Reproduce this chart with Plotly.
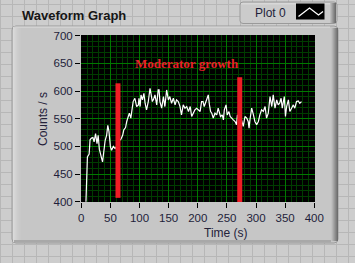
import plotly.graph_objects as go

# ---------------- data ----------------
time_s = [8, 9, 10.5, 13.5, 15, 17.5, 20, 22, 24.5, 27,
          29, 31, 33, 35, 36.5, 38, 40, 41, 43.5, 45.5,
          47.5, 50, 52, 55, 58, 61, 63, 65, 68, 71,
          73, 76, 78, 80.5, 82.5, 85, 87, 89, 92, 94,
          95, 98, 99, 101, 102.5, 105, 107.5, 109.5, 112, 115,
          118, 120, 122, 124, 126.5, 129.5, 132, 133.5, 135, 138,
          141, 143.5, 146.5, 149.5, 152, 155, 158, 161, 163.5, 166.5,
          169.5, 172, 175, 178, 181, 184, 187, 189.5, 192.5, 195,
          198, 201, 204, 206.5, 209, 211, 214, 216.5, 218, 220,
          222, 224, 226.5, 229.5, 232.5, 235, 237, 239, 242, 244,
          245.5, 248.5, 250.5, 253.5, 255.5, 258, 261, 264, 266.5, 268,
          270, 272, 275, 278, 281, 284, 286.5, 288, 289.5, 292.5,
          295.5, 298, 301, 304, 306.5, 309.5, 312.5, 315.5, 318, 321,
          324, 327, 329.5, 332.5, 335.5, 338, 340.5, 343, 345, 348.5,
          350.5, 352.5, 355.5, 358, 361, 364, 366.5, 369.5, 372.5, 375,
          378]
counts = [400, 464, 481, 486, 512, 515, 516, 508, 523, 505,
          520, 495, 484, 478, 472, 490, 505, 511, 520, 538,
          527, 499, 493, 500, 496, 500, 505, 510, 513, 520,
          530, 534, 545, 554, 560, 551, 568, 581, 587, 572,
          572, 575, 587, 572, 593, 584, 596, 578, 566, 581,
          605, 593, 581, 585, 593, 575, 602, 602, 581, 569,
          590, 572, 602, 584, 590, 578, 587, 575, 584, 581,
          572, 557, 575, 569, 572, 563, 572, 554, 560, 566,
          569, 566, 563, 581, 581, 572, 581, 587, 593, 575,
          563, 560, 551, 560, 557, 569, 562, 554, 557, 548,
          566, 575, 557, 563, 554, 552, 548, 545, 539, 557,
          545, 540, 548, 536, 554, 551, 545, 533, 548, 569,
          557, 545, 539, 545, 557, 566, 563, 572, 551, 560,
          590, 572, 593, 569, 584, 575, 578, 587, 569, 590,
          554, 572, 584, 563, 569, 575, 569, 581, 582, 578,
          581]

marker_times = [63, 272]
marker_top = [614, 625]
marker_bottom = [407, 397]

annotation_text = "Moderator growth"
annotation_pos = (181, 649)

x_ticks = [0, 50, 100, 150, 200, 250, 300, 350, 400]
y_ticks = [400, 450, 500, 550, 600, 650, 700]

# ---------------- geometry helpers ----------------
W, H = 355, 263
ML, MR, MT, MB = 81, 40, 35, 61
PW = W - ML - MR
PH = H - MT - MB


def fx(px):
    return (px - ML) / PW


def fy(py):
    return (H - MB - py) / PH


def prect(x0, y0, x1, y1, fill, line=None, lw=0):
    return dict(type="rect", xref="paper", yref="paper", layer="below",
                x0=fx(x0), x1=fx(x1), y0=fy(y1), y1=fy(y0),
                fillcolor=fill, line=dict(color=line or fill, width=lw))


def pline(x0, y0, x1, y1, color, w=1):
    return dict(type="line", xref="paper", yref="paper", layer="below",
                x0=fx(x0), x1=fx(x1), y0=fy(y0), y1=fy(y1),
                line=dict(color=color, width=w))


def rrect_path(x0, y0, x1, y1, r):
    pts = [
        f"M{fx(x0 + r)},{fy(y0)}",
        f"L{fx(x1 - r)},{fy(y0)}",
        f"Q{fx(x1)},{fy(y0)} {fx(x1)},{fy(y0 + r)}",
        f"L{fx(x1)},{fy(y1 - r)}",
        f"Q{fx(x1)},{fy(y1)} {fx(x1 - r)},{fy(y1)}",
        f"L{fx(x0 + r)},{fy(y1)}",
        f"Q{fx(x0)},{fy(y1)} {fx(x0)},{fy(y1 - r)}",
        f"L{fx(x0)},{fy(y0 + r)}",
        f"Q{fx(x0)},{fy(y0)} {fx(x0 + r)},{fy(y0)}",
        "Z",
    ]
    return " ".join(pts)


BG = "#cdcdcd"
GRID_BG = "#b7b7b7"
PANEL = "#c6c6c6"

shapes = []
# front panel grid
for gx in range(0, W + 1, 12):
    shapes.append(pline(gx + 0.5, 0, gx + 0.5, H, GRID_BG, 1))
for gy in range(4, H + 1, 12):
    shapes.append(pline(0, gy + 0.5, W, gy + 0.5, GRID_BG, 1))

# graph frame
shapes.append(dict(type="path", xref="paper", yref="paper", layer="below",
                   path=rrect_path(12, 26, 338, 243, 4),
                   fillcolor=PANEL, line=dict(color="#9a9a9a", width=1)))
# left highlight band
for i, c in enumerate(["#dadada", "#d6d6d6", "#d3d3d3", "#d0d0d0", "#cdcdcd", "#cbcbcb", "#c9c9c9", "#c8c8c8"]):
    shapes.append(prect(13 + i, 27, 14 + i, 242, c))
# top highlight
shapes.append(prect(14, 26.5, 330, 28, "#d2d2d2"))
# right shading
for i, c in enumerate(["#c0c0c0", "#b4b4b4", "#a6a6a6", "#989898", "#8a8a8a", "#7c7c7c", "#6e6e6e"]):
    shapes.append(prect(331 + i, 28, 332 + i, 241, c))
# bottom shading
shapes.append(prect(14, 240, 331, 242.5, "#a8a8a8"))

# plot area background
shapes.append(prect(ML, MT, ML + PW, MT + PH, "#000000"))

# legend box
shapes.append(dict(type="path", xref="paper", yref="paper", layer="below",
                   path=rrect_path(240, 2, 337, 23.5, 3),
                   fillcolor="#cbcbcb", line=dict(color="#9a9a9a", width=1)))
shapes.append(prect(241, 3, 330, 4.5, "#d8d8d8"))
for i, c in enumerate(["#bcbcbc", "#acacac", "#9c9c9c", "#8c8c8c", "#7c7c7c", "#6e6e6e"]):
    shapes.append(prect(330 + i, 3, 331 + i, 23, c))
shapes.append(prect(296, 3.5, 324.5, 19.5, "#000000"))
shapes.append(dict(type="path", xref="paper", yref="paper", layer="above",
                   path=f"M{fx(298.5)},{fy(16.5)} L{fx(309.5)},{fy(8)} L{fx(318.5)},{fy(15)} L{fx(323)},{fy(11.5)}",
                   line=dict(color="white", width=1.3)))

fig = go.Figure()

fig.add_trace(go.Scatter(x=time_s, y=counts, mode="lines", name="Plot 0",
                         line=dict(color="white", width=1.2), showlegend=False))

for t, top, bot in zip(marker_times, marker_top, marker_bottom):
    fig.add_trace(go.Scatter(x=[t, t], y=[bot, top], mode="lines",
                             line=dict(color="#ee1c25", width=5),
                             showlegend=False, hoverinfo="skip"))

TICKFONT = dict(family="Liberation Sans, Arial, sans-serif", size=11.5, color="#1e1e3a")
MAJOR = "#007800"
MINOR = "#003c00"

fig.update_xaxes(range=[-0.5, 401.2], tickvals=x_ticks, ticks="outside", ticklen=5,
                 tickcolor="#000000", tickwidth=1, showgrid=True, gridcolor=MAJOR,
                 gridwidth=1, zeroline=False, showline=False, tickfont=TICKFONT,
                 minor=dict(dtick=10, tick0=0, showgrid=True, gridcolor=MINOR,
                            gridwidth=1, ticks=""))
fig.update_yaxes(range=[399.5, 701.3], tickvals=y_ticks, ticks="outside", ticklen=5,
                 tickcolor="#000000", tickwidth=1, showgrid=True, gridcolor=MAJOR,
                 gridwidth=1, zeroline=False, showline=False, tickfont=TICKFONT,
                 minor=dict(dtick=10, tick0=400, showgrid=True, gridcolor=MINOR,
                            gridwidth=1, ticks=""))

annotations = [
    dict(text="<b>Waveform Graph</b>", xref="paper", yref="paper", x=fx(20), y=fy(15.5),
         xanchor="left", yanchor="middle", showarrow=False,
         font=dict(family="Liberation Sans, Arial, sans-serif", size=13, color="#161616")),
    dict(text="Counts / s", xref="paper", yref="paper", x=fx(43), y=fy(119),
         xanchor="center", yanchor="middle", textangle=-90, showarrow=False,
         font=dict(family="Liberation Sans, Arial, sans-serif", size=12, color="#24223a")),
    dict(text="Time (s)", xref="paper", yref="paper", x=fx(226), y=fy(233),
         xanchor="center", yanchor="middle", showarrow=False,
         font=dict(family="Liberation Sans, Arial, sans-serif", size=12, color="#24223a")),
    dict(text="Plot 0", xref="paper", yref="paper", x=fx(270), y=fy(12.5),
         xanchor="center", yanchor="middle", showarrow=False,
         font=dict(family="Liberation Sans, Arial, sans-serif", size=12, color="#1e1e3a")),
    dict(text="<b>" + annotation_text + "</b>", x=annotation_pos[0], y=annotation_pos[1],
         xref="x", yref="y", xanchor="center", yanchor="middle", showarrow=False,
         font=dict(family="Liberation Serif, Times New Roman, serif", size=13, color="#e8202a")),
]

fig.update_layout(
    width=W, height=H,
    margin=dict(l=ML, r=MR, t=MT, b=MB, pad=0),
    paper_bgcolor=BG, plot_bgcolor="#000000",
    shapes=shapes, annotations=annotations,
    showlegend=False,
)

fig.write_html("out.html", config={"displayModeBar": False})
